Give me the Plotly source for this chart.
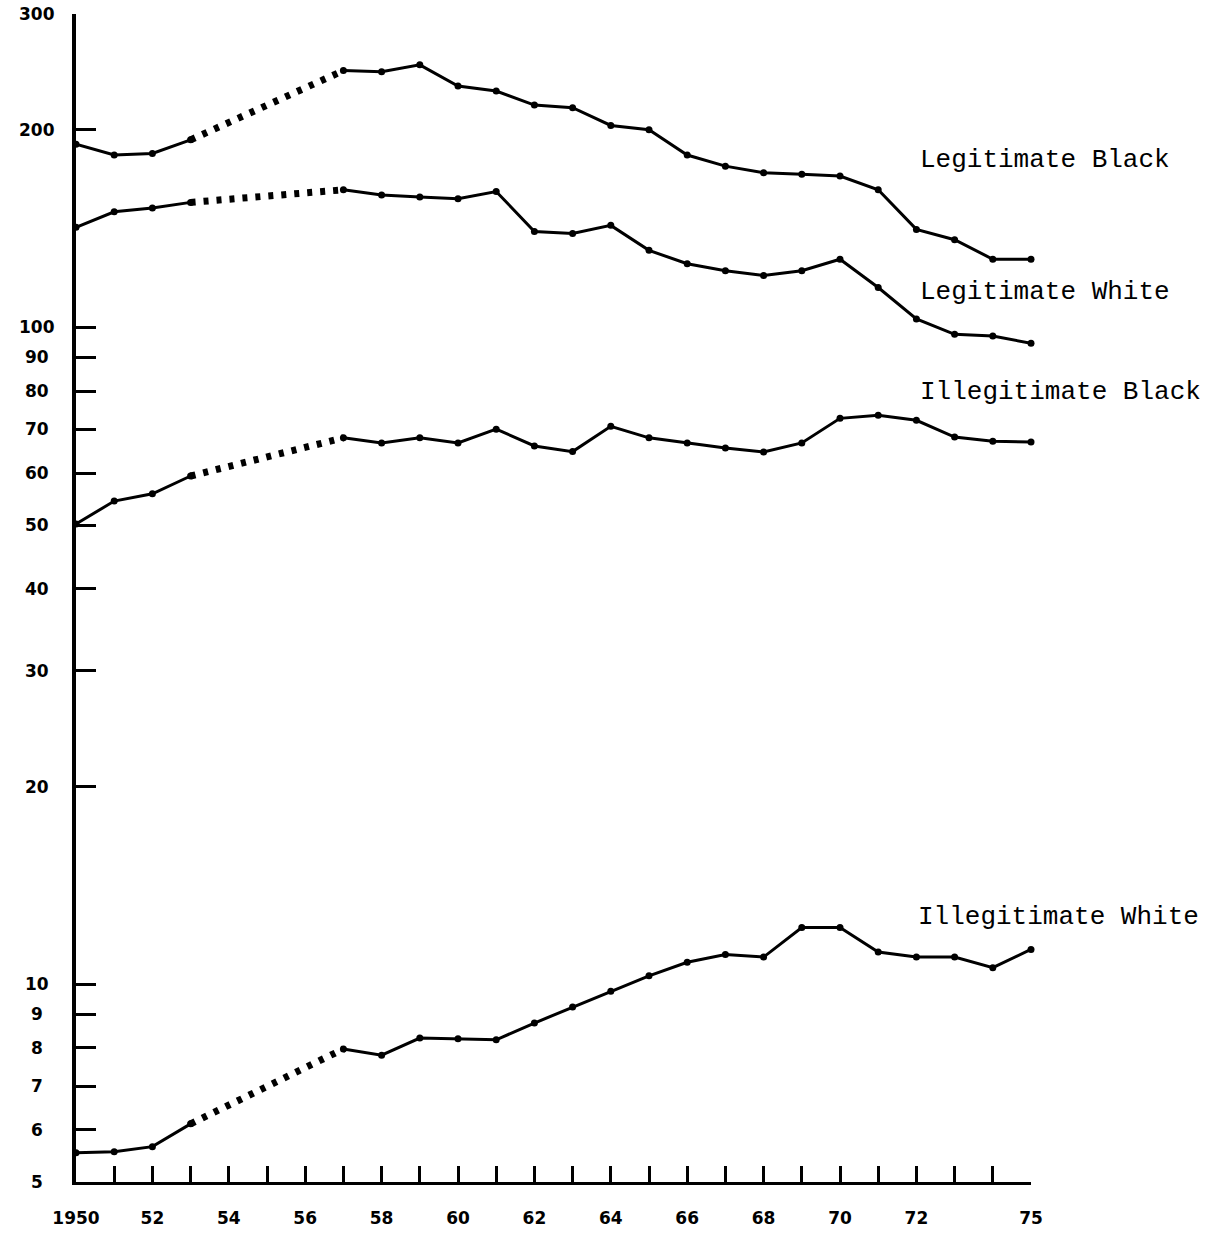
import math
import plotly.graph_objects as go

# ---------------- data ----------------
years = list(range(1950, 1976))

# None = year not plotted (1954-1956 bridged by dotted line)
legit_black = [190, 183, 184, 193, None, None, None, 246, 245, 251, 233, 229, 218, 216,
               203, 200, 183, 176, 172, 171, 170, 162, 141, 136, 127, 127]
legit_white = [142, 150, 152, 155, None, None, None, 162, 159, 158, 157, 161, 140, 139,
               143, 131, 125, 122, 120, 122, 127, 115, 103, 97.6, 97, 94.6]
illegit_black = [50.2, 54.4, 55.8, 59.4, None, None, None, 67.9, 66.7, 67.9, 66.7, 70.0, 66.0, 64.7,
                 70.7, 67.9, 66.7, 65.5, 64.6, 66.7, 72.7, 73.5, 72.2, 68.1, 67.1, 66.9]
illegit_white = [5.54, 5.56, 5.66, 6.13, None, None, None, 7.97, 7.80, 8.28, 8.26, 8.23, 8.73, 9.23,
                 9.76, 10.3, 10.8, 11.1, 11.0, 12.2, 12.2, 11.2, 11.0, 11.0, 10.6, 11.3]

series_names = ["Legitimate Black", "Legitimate White", "Illegitimate Black", "Illegitimate White"]
series_values = [legit_black, legit_white, illegit_black, illegit_white]

x_tick_vals = [1950, 1952, 1954, 1956, 1958, 1960, 1962, 1964, 1966, 1968, 1970, 1972, 1975]
x_tick_text = ["1950", "52", "54", "56", "58", "60", "62", "64", "66", "68", "70", "72", "75"]

y_tick_vals = [5, 6, 7, 8, 9, 10, 20, 30, 40, 50, 60, 70, 80, 90, 100, 200, 300]
y_tick_text = ["5", "6", "7", "8", "9", "10", "20", "30", "40", "50", "60", "70", "80", "90", "100", "200", "300"]

gap_start, gap_end = 1953, 1957

# ---------------- layout geometry ----------------
W, H = 1215, 1233
ML, MR, MT, MB = 76, 184, 14, 51
PW = W - ML - MR
PH = H - MT - MB

def px_x(px):
    return (px - ML) / PW

def px_y(py):
    return (H - MB - py) / PH

label_pos = {  # pixel positions of series labels (left x, centre y)
    "Legitimate Black": (918, 160),
    "Legitimate White": (918, 292),
    "Illegitimate Black": (918, 392),
    "Illegitimate White": (916, 917),
}

fig = go.Figure()

for name, vals in zip(series_names, series_values):
    fig.add_trace(go.Scatter(
        x=years, y=vals, mode="lines+markers", name=name,
        line=dict(color="black", width=3), connectgaps=False,
        marker=dict(color="black", size=7),
        cliponaxis=False, showlegend=False,
    ))
    i0, i1 = years.index(gap_start), years.index(gap_end)
    fig.add_trace(go.Scatter(
        x=[years[i0], years[i1]], y=[vals[i0], vals[i1]], mode="lines",
        line=dict(color="black", width=7, dash="5px,8px"),
        cliponaxis=False, showlegend=False,
    ))

annotations = []
for v, t in zip(y_tick_vals, y_tick_text):
    annotations.append(dict(
        x=px_x(37), xref="paper", y=math.log10(v), yref="y",
        text=t, showarrow=False, xanchor="center", yanchor="middle",
        font=dict(family="DejaVu Sans", size=17, color="black", weight="bold"),
    ))

for name in series_names:
    lx, ly = label_pos[name]
    annotations.append(dict(
        x=px_x(lx), xref="paper", y=px_y(ly), yref="paper",
        text=name, showarrow=False, xanchor="left", yanchor="middle",
        font=dict(family="Liberation Mono", size=26, color="black"),
    ))

fig.update_layout(
    width=W, height=H,
    margin=dict(l=ML, r=MR, t=MT, b=MB, pad=0, autoexpand=False),
    paper_bgcolor="white", plot_bgcolor="white",
    annotations=annotations,
    xaxis=dict(
        range=[1950, 1975], showgrid=False, zeroline=False, automargin=False,
        showline=True, linecolor="black", linewidth=3,
        tickmode="array", tickvals=x_tick_vals, ticktext=x_tick_text,
        ticks="inside", ticklen=16, tickwidth=3, tickcolor="black",
        minor=dict(dtick=1, tick0=1950, ticks="inside", ticklen=16, tickwidth=3, tickcolor="black", showgrid=False),
        tickfont=dict(family="DejaVu Sans", size=17, color="black", weight="bold"),
        ticklabelstandoff=19,
    ),
    yaxis=dict(
        type="log", range=[math.log10(5), math.log10(300)],
        showgrid=False, zeroline=False, automargin=False,
        showline=True, linecolor="black", linewidth=4,
        tickmode="array", tickvals=y_tick_vals,
        ticks="inside", ticklen=20, tickwidth=3, tickcolor="black",
        showticklabels=False,
    ),
)

fig.write_html("out.html")
